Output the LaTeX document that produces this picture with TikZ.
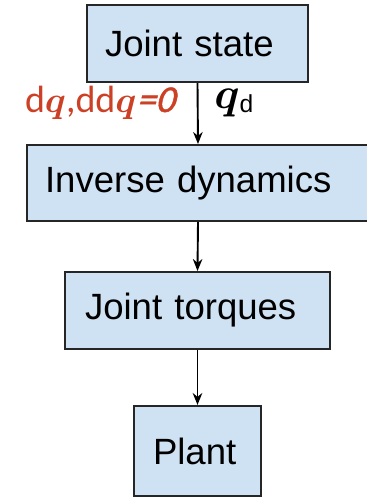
\documentclass[tikz,border=0pt]{standalone}
\usepackage{amsmath}
\usepackage{fontspec}
\setmainfont{Liberation Sans}
\newfontfamily\calfont{Carlito}
\newfontfamily\calslant{Carlito}[FakeSlant=0.25,FakeBold=1.2]
\definecolor{boxblue}{HTML}{CFE2F3}
\definecolor{labelred}{HTML}{CC4125}
\tikzset{
  blk/.style={draw=black!85, fill=boxblue, line width=0.04cm, align=left,
    font=\fontsize{20.8}{25}\selectfont},
  flow/.style={-{Stealth[length=0.24cm,width=0.19cm]}, line width=0.038cm}
}
\usetikzlibrary{arrows.meta}
\begin{document}
\begin{tikzpicture}[x=0.02cm,y=-0.02cm]
\useasboundingbox (0,0) rectangle (366,498);

% Drawing block Joint state
\node [blk, text width=3.70cm, inner xsep=0.36cm, minimum height=1.54cm] (jstate) at (197.5,43.5) {Joint state};

% Drawing block Inverse dynamics
\node [blk, text width=6.12cm, inner xsep=0.36cm, minimum height=1.52cm] (invdyn) at (198,183) {Inverse dynamics};

% Drawing block Joint torques
\node [blk, text width=4.50cm, inner xsep=0.40cm, minimum height=1.54cm] (jtorq) at (197.5,310.5) {Joint torques};

% Drawing block Plant
\node [blk, text width=1.78cm, inner xsep=0.38cm, minimum height=1.80cm] (plant) at (197.5,451) {Plant};

% Drawing connectors
\draw [flow] (jstate.south) -- (invdyn.north);
\draw [flow] (invdyn.south) -- (jtorq.north);
\draw [flow] (jtorq.south) -- (plant.north);

% Labels of the first connector
\node [anchor=base east, text=labelred, font=\calfont\fontsize{21.6}{26}\selectfont, inner sep=0pt] (vel) at (175,112)
  {d$\boldsymbol{q}$,dd$\boldsymbol{q}${\calslant=0}};
\node [anchor=west, inner sep=0pt] (qdes) at (214,103)
  {{\fontsize{25}{28}\selectfont$\boldsymbol{q}$}\raisebox{-0.4ex}{\fontsize{14}{16}\selectfont d}};
\end{tikzpicture}
\end{document}
